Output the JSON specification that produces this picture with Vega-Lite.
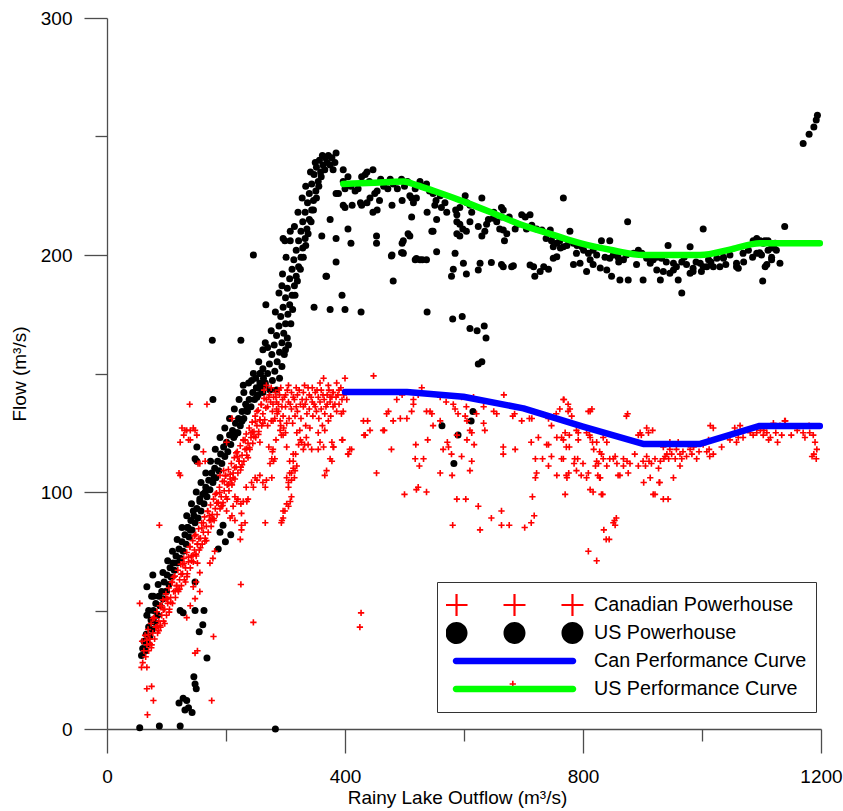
{
"$schema":"https://vega.github.io/schema/vega-lite/v6.json",
"width":714,"height":711,
"autosize":{"type":"none"},
"padding":{"left":107,"top":18,"right":22,"bottom":82},
"background":"white",
"config":{"view":{"stroke":null},"font":"Liberation Sans"},
"datasets":{
"us":[{"x":58,"y":31},{"x":60,"y":34},{"x":62,"y":37},{"x":65,"y":33},{"x":66,"y":40},{"x":68,"y":36},{"x":70,"y":43},{"x":72,"y":39},{"x":74,"y":46},{"x":76,"y":42},{"x":78,"y":50},{"x":80,"y":45},{"x":82,"y":53},{"x":85,"y":48},{"x":87,"y":56},{"x":89,"y":52},{"x":92,"y":58},{"x":94,"y":55},{"x":96,"y":62},{"x":99,"y":58},{"x":101,"y":65},{"x":104,"y":61},{"x":106,"y":68},{"x":108,"y":64},{"x":111,"y":70},{"x":113,"y":67},{"x":116,"y":73},{"x":118,"y":70},{"x":121,"y":76},{"x":123,"y":72},{"x":126,"y":79},{"x":128,"y":75},{"x":131,"y":82},{"x":133,"y":78},{"x":136,"y":85},{"x":138,"y":81},{"x":141,"y":88},{"x":143,"y":84},{"x":146,"y":90},{"x":148,"y":87},{"x":151,"y":93},{"x":153,"y":89},{"x":156,"y":96},{"x":158,"y":92},{"x":161,"y":99},{"x":163,"y":95},{"x":166,"y":102},{"x":168,"y":98},{"x":171,"y":105},{"x":173,"y":101},{"x":176,"y":108},{"x":178,"y":104},{"x":181,"y":110},{"x":183,"y":106},{"x":186,"y":113},{"x":188,"y":109},{"x":191,"y":116},{"x":193,"y":112},{"x":196,"y":119},{"x":198,"y":115},{"x":201,"y":121},{"x":203,"y":117},{"x":206,"y":124},{"x":208,"y":120},{"x":211,"y":126},{"x":213,"y":123},{"x":216,"y":129},{"x":218,"y":125},{"x":221,"y":131},{"x":224,"y":128},{"x":227,"y":134},{"x":230,"y":131},{"x":233,"y":137},{"x":236,"y":134},{"x":239,"y":139},{"x":242,"y":136},{"x":245,"y":142},{"x":248,"y":139},{"x":251,"y":144},{"x":254,"y":141},{"x":257,"y":146},{"x":260,"y":143},{"x":263,"y":148},{"x":266,"y":145},
{"x":70,"y":50},{"x":78,"y":56},{"x":86,"y":61},{"x":94,"y":66},{"x":102,"y":71},{"x":110,"y":75},{"x":118,"y":80},{"x":126,"y":85},{"x":134,"y":90},{"x":142,"y":95},{"x":150,"y":100},{"x":158,"y":104},{"x":166,"y":108},{"x":174,"y":113},{"x":182,"y":118},{"x":190,"y":123},{"x":198,"y":127},{"x":206,"y":131},{"x":214,"y":135},{"x":222,"y":139},{"x":230,"y":142},{"x":238,"y":146},{"x":246,"y":150},
{"x":67,"y":60},{"x":75,"y":56},{"x":67,"y":48},{"x":77,"y":65},{"x":100,"y":58},{"x":123,"y":50},{"x":128,"y":49},{"x":148,"y":50},{"x":163,"y":50},{"x":161,"y":44},{"x":155,"y":41},{"x":168,"y":30},{"x":146,"y":22},{"x":150,"y":17},{"x":148,"y":19},{"x":121,"y":11},{"x":134,"y":12},{"x":128,"y":13},{"x":131,"y":8},{"x":143,"y":7},{"x":137,"y":9},{"x":55,"y":0.5},{"x":88,"y":1.3},{"x":123,"y":1.3},{"x":283,"y":0},{"x":187,"y":76},{"x":208,"y":82},{"x":199,"y":79},{"x":148,"y":62},{"x":135,"y":85},{"x":145,"y":92},{"x":151,"y":113},{"x":151,"y":119},{"x":180,"y":106},{"x":178,"y":139},{"x":229,"y":145},{"x":243,"y":147},{"x":257,"y":150},{"x":250,"y":148},{"x":227,"y":130},{"x":235,"y":135},{"x":215,"y":124},{"x":220,"y":125},{"x":148,"y":114},{"x":190,"y":83},{"x":195,"y":86},{"x":140,"y":84},{"x":156,"y":97},{"x":165,"y":100},
{"x":262,"y":142},{"x":274,"y":143},{"x":266,"y":146},{"x":278,"y":147},{"x":270,"y":150},{"x":282,"y":151},{"x":273,"y":154},{"x":286,"y":155},{"x":277,"y":158},{"x":290,"y":159},{"x":281,"y":162},{"x":294,"y":163},{"x":285,"y":166},{"x":297,"y":167},{"x":289,"y":170},{"x":300,"y":171},{"x":292,"y":174},{"x":304,"y":175},{"x":296,"y":178},{"x":307,"y":179},{"x":300,"y":182},{"x":311,"y":183},{"x":303,"y":186},{"x":315,"y":187},{"x":307,"y":190},{"x":318,"y":191},{"x":311,"y":194},{"x":322,"y":195},{"x":314,"y":198},{"x":326,"y":199},{"x":318,"y":202},{"x":329,"y":203},{"x":322,"y":206},{"x":333,"y":207},{"x":326,"y":210},{"x":336,"y":211},{"x":329,"y":214},{"x":340,"y":215},{"x":333,"y":218},{"x":344,"y":219},{"x":337,"y":222},{"x":347,"y":223},{"x":340,"y":226},{"x":351,"y":227},{"x":344,"y":230},{"x":355,"y":231},{"x":348,"y":234},{"x":359,"y":235},{"x":352,"y":237},{"x":363,"y":238},{"x":357,"y":240},{"x":367,"y":241},{"x":362,"y":242},{"x":372,"y":242},{"x":378,"y":241},{"x":385,"y":243},{"x":375,"y":238},{"x":380,"y":236},{"x":383,"y":239},{"x":258,"y":150},{"x":255,"y":155},{"x":262,"y":160},{"x":266,"y":163},{"x":300,"y":160},{"x":305,"y":162},{"x":252,"y":140},
{"x":256,"y":144},{"x":262,"y":152},{"x":270,"y":161},{"x":276,"y":168},{"x":283,"y":176},{"x":289,"y":184},{"x":295,"y":192},{"x":301,"y":199},{"x":308,"y":206},{"x":315,"y":212},{"x":321,"y":218},{"x":328,"y":224},{"x":334,"y":229},{"x":342,"y":235},{"x":350,"y":239},{"x":285,"y":143},{"x":290,"y":148},{"x":294,"y":153},{"x":298,"y":158},{"x":303,"y":165},{"x":309,"y":171},{"x":312,"y":177},{"x":316,"y":183},{"x":320,"y":189},{"x":325,"y":194},{"x":330,"y":199},{"x":334,"y":204},{"x":338,"y":209},{"x":343,"y":214},{"x":347,"y":219},{"x":352,"y":224},{"x":356,"y":229},{"x":360,"y":233},{"x":366,"y":236},{"x":370,"y":239},
{"x":246,"y":200},{"x":267,"y":179},{"x":225,"y":164},{"x":177,"y":164},{"x":308,"y":210},{"x":294,"y":187},{"x":296,"y":207},{"x":299,"y":206},{"x":385,"y":207},{"x":375,"y":215},{"x":361,"y":208},{"x":368,"y":191},{"x":385,"y":197},{"x":348,"y":178},{"x":375,"y":177},{"x":400,"y":177},{"x":395,"y":183},{"x":427,"y":176},{"x":397,"y":221},{"x":412,"y":221},{"x":426,"y":222},{"x":405,"y":211},{"x":410,"y":205},{"x":453,"y":205},{"x":479,"y":200},{"x":497,"y":201},{"x":509,"y":208},{"x":518,"y":198},{"x":530,"y":198},{"x":481,"y":189},{"x":538,"y":176},{"x":496,"y":205},{"x":512,"y":216},{"x":369,"y":191},{"x":581,"y":173},{"x":767,"y":224},{"x":875,"y":214},{"x":1002,"y":211},{"x":1139,"y":212},{"x":1170,"y":247},{"x":1180,"y":251},{"x":1188,"y":254},{"x":1192,"y":257},{"x":1194,"y":259},{"x":597,"y":174},{"x":610,"y":169},{"x":622,"y":168},{"x":634,"y":170},{"x":637,"y":165},{"x":624,"y":154},{"x":630,"y":155},{"x":615,"y":134},{"x":612,"y":130},{"x":563,"y":128},{"x":590,"y":124},{"x":583,"y":112},{"x":966,"y":184},{"x":1102,"y":189},
{"x":397,"y":236},{"x":397,"y":231},{"x":400,"y":228},{"x":405,"y":233},{"x":410,"y":229},{"x":417,"y":227},{"x":422,"y":228},{"x":428,"y":233},{"x":434,"y":234},{"x":437,"y":235},{"x":441,"y":231},{"x":447,"y":236},{"x":450,"y":226},{"x":454,"y":227},{"x":460,"y":232},{"x":465,"y":229},{"x":472,"y":228},{"x":476,"y":232},{"x":481,"y":230},{"x":488,"y":228},{"x":495,"y":232},{"x":500,"y":229},{"x":505,"y":231},{"x":512,"y":224},{"x":518,"y":228},{"x":526,"y":231},{"x":530,"y":229},{"x":537,"y":230},{"x":542,"y":227},{"x":548,"y":226},{"x":553,"y":223},{"x":560,"y":225},{"x":437,"y":222},{"x":447,"y":218},{"x":454,"y":219},{"x":442,"y":224},{"x":458,"y":223},{"x":479,"y":221},{"x":496,"y":223},{"x":509,"y":225},{"x":515,"y":222},{"x":520,"y":224},{"x":538,"y":218},{"x":385,"y":226},{"x":389,"y":226},{"x":400,"y":220},{"x":428,"y":221},{"x":554,"y":215},{"x":548,"y":210},{"x":630,"y":208},{"x":668,"y":206},{"x":453,"y":208},{"x":498,"y":206},{"x":506,"y":209},{"x":546,"y":210},{"x":588,"y":209},{"x":593,"y":208},{"x":495,"y":201},
{"x":551,"y":221},{"x":562,"y":220},{"x":568,"y":222},{"x":571,"y":218},{"x":586,"y":219},{"x":588,"y":217},{"x":593,"y":220},{"x":602,"y":225},{"x":605,"y":222},{"x":610,"y":221},{"x":613,"y":218},{"x":630,"y":224},{"x":588,"y":214},{"x":593,"y":213},{"x":604,"y":210},{"x":598,"y":211},{"x":610,"y":214},{"x":624,"y":212},{"x":638,"y":213},{"x":635,"y":210},{"x":663,"y":220},{"x":666,"y":219},{"x":663,"y":216},
{"x":649,"y":215.5},{"x":655,"y":214},{"x":641,"y":215},{"x":660,"y":211},{"x":666,"y":210.5},{"x":672,"y":209},{"x":686,"y":211},{"x":697,"y":217},{"x":703,"y":216},{"x":711,"y":217},{"x":714,"y":212.6},{"x":722,"y":211},{"x":731,"y":210.5},{"x":745,"y":210.5},{"x":750,"y":208},{"x":747,"y":206},{"x":750,"y":203.5},{"x":756,"y":205},{"x":761,"y":206},{"x":767,"y":203.5},{"x":773,"y":204},{"x":778,"y":210},{"x":784,"y":205},{"x":789,"y":200.7},{"x":798,"y":203.5},{"x":801,"y":202},{"x":809,"y":200.7},{"x":817,"y":202},{"x":823,"y":200},{"x":831,"y":206},{"x":845,"y":206},{"x":837,"y":199},{"x":845,"y":198.6},{"x":851,"y":200},{"x":859,"y":199},{"x":868,"y":198},{"x":873,"y":200},{"x":885,"y":200.7},{"x":893,"y":202},{"x":899,"y":200.7},{"x":907,"y":198.6},{"x":913,"y":196.5},{"x":918,"y":198},{"x":924,"y":199},{"x":932,"y":198.6},{"x":943,"y":204},{"x":952,"y":196.5},{"x":957,"y":195},{"x":966,"y":197},{"x":974,"y":196},{"x":980,"y":203.5},{"x":985,"y":194.4},{"x":997,"y":196.5},{"x":1002,"y":195},{"x":1011,"y":198},{"x":1019,"y":195},{"x":1025,"y":198.6},{"x":1036,"y":199},{"x":1047,"y":200},{"x":1058,"y":196.5},{"x":1061,"y":194.4},{"x":1069,"y":200.7},{"x":1078,"y":202},{"x":1086,"y":206},{"x":1092,"y":200.7},{"x":1100,"y":200},{"x":1106,"y":206},{"x":1111,"y":202},{"x":1117,"y":198},{"x":1123,"y":205},{"x":1109,"y":196},{"x":1131,"y":196.5},
{"x":478,"y":199.6},{"x":498,"y":200.7},{"x":520,"y":198.5},{"x":526,"y":198},{"x":537,"y":198},{"x":554,"y":201.4},{"x":585,"y":200.7},{"x":582,"y":194},{"x":579,"y":191},{"x":604,"y":192},{"x":599,"y":196.5},{"x":627,"y":196.5},{"x":624,"y":193.7},{"x":646,"y":196.8},{"x":663,"y":196},{"x":666,"y":195},{"x":680,"y":195},{"x":683,"y":195.5},{"x":711,"y":195.8},{"x":717,"y":195},{"x":719,"y":191},{"x":728,"y":193},{"x":734,"y":195},{"x":742,"y":194},{"x":750,"y":198.6},{"x":756,"y":199.3},{"x":784,"y":196},{"x":795,"y":196.5},{"x":806,"y":193},{"x":817,"y":196},{"x":829,"y":194.5},{"x":840,"y":193.7},{"x":848,"y":191},{"x":862,"y":189.5},{"x":876,"y":189.5},{"x":901,"y":189.5},{"x":924,"y":193.7},{"x":935,"y":193},{"x":930,"y":189.5},{"x":946,"y":192.3},{"x":952,"y":193.7},{"x":960,"y":189.5},{"x":980,"y":192.3},{"x":985,"y":193},{"x":999,"y":193},{"x":1008,"y":195},{"x":1036,"y":198.6},{"x":1058,"y":195},{"x":1097,"y":201},{"x":1106,"y":195},{"x":1117,"y":199},
{"x":1092,"y":207},{"x":1098,"y":206},{"x":1103,"y":205},{"x":1111,"y":206},{"x":1120,"y":204},{"x":1125,"y":202},{"x":1117,"y":203},{"x":650,"y":218},{"x":676,"y":216},{"x":690,"y":213},{"x":705,"y":211},{"x":738,"y":207},{"x":762,"y":203},{"x":790,"y":204},{"x":812,"y":198},{"x":860,"y":197},{"x":890,"y":196},{"x":940,"y":197},{"x":970,"y":199},{"x":990,"y":197},{"x":1015,"y":197},{"x":1040,"y":196},{"x":1070,"y":197},{"x":1085,"y":199},{"x":1030,"y":195}],
"can":[{"x":60,"y":28},{"x":62,"y":33},{"x":59,"y":37},{"x":65,"y":30.5},{"x":67,"y":35.5},{"x":64,"y":39.5},{"x":70,"y":33},{"x":72,"y":38},{"x":69,"y":42},{"x":75,"y":35.5},{"x":77,"y":40.5},{"x":74,"y":44.5},{"x":80,"y":38},{"x":82,"y":43},{"x":79,"y":47},{"x":85,"y":40.5},{"x":87,"y":45.5},{"x":84,"y":49.5},{"x":90,"y":43},{"x":92,"y":48},{"x":89,"y":52},{"x":95,"y":45.5},{"x":97,"y":50.5},{"x":94,"y":54.5},{"x":100,"y":48},{"x":102,"y":53},{"x":99,"y":57},{"x":105,"y":50.5},{"x":107,"y":55.5},{"x":104,"y":59.5},{"x":110,"y":53},{"x":112,"y":58},{"x":109,"y":62},{"x":115,"y":55.5},{"x":117,"y":60.5},{"x":114,"y":64.5},{"x":120,"y":58},{"x":122,"y":63},{"x":119,"y":67},{"x":125,"y":60.5},{"x":127,"y":65.5},{"x":124,"y":69.5},{"x":130,"y":63},{"x":132,"y":68},{"x":129,"y":72},{"x":135,"y":65.5},{"x":137,"y":70.5},{"x":134,"y":74.5},{"x":140,"y":68},{"x":142,"y":73},{"x":139,"y":77},{"x":145,"y":70.5},{"x":147,"y":75.5},{"x":144,"y":79.5},{"x":150,"y":73},{"x":152,"y":78},{"x":149,"y":82},{"x":155,"y":75.5},{"x":157,"y":80.5},{"x":154,"y":84.5},{"x":160,"y":78},{"x":162,"y":83},{"x":159,"y":87},{"x":165,"y":80.5},{"x":167,"y":85.5},{"x":164,"y":89.5},{"x":170,"y":83},{"x":172,"y":88},{"x":169,"y":92},{"x":175,"y":85.5},{"x":177,"y":90.5},{"x":174,"y":94.5},{"x":180,"y":88},{"x":182,"y":93},{"x":179,"y":97},{"x":185,"y":90.5},{"x":187,"y":95.5},{"x":184,"y":99.5},{"x":190,"y":93},{"x":192,"y":98},{"x":189,"y":102},{"x":195,"y":95.5},{"x":197,"y":100.5},{"x":194,"y":104.5},{"x":200,"y":98},{"x":202,"y":103},{"x":199,"y":107},{"x":205,"y":100.5},{"x":207,"y":105.5},{"x":204,"y":109.5},{"x":210,"y":103},{"x":212,"y":108},{"x":209,"y":112},{"x":215,"y":105.5},{"x":217,"y":110.5},{"x":214,"y":114.5},{"x":220,"y":108},{"x":222,"y":113},{"x":219,"y":117},{"x":225,"y":110.5},{"x":227,"y":115.5},{"x":224,"y":119.5},{"x":230,"y":113},{"x":232,"y":118},{"x":229,"y":122},{"x":235,"y":115.5},{"x":237,"y":120.5},{"x":234,"y":124.5},{"x":240,"y":118},{"x":242,"y":123},{"x":239,"y":127},{"x":245,"y":120.5},{"x":247,"y":125.5},{"x":244,"y":129.5},{"x":250,"y":123},{"x":252,"y":128},{"x":249,"y":132},{"x":255,"y":125.5},{"x":257,"y":130.5},{"x":254,"y":134.5},{"x":260,"y":128},{"x":262,"y":133},{"x":259,"y":137},{"x":265,"y":130.5},{"x":267,"y":135.5},{"x":264,"y":139.5},
{"x":67,"y":37.5},{"x":72,"y":36},{"x":77,"y":46.5},{"x":82,"y":43},{"x":87,"y":41.5},{"x":92,"y":52},{"x":97,"y":44.5},{"x":102,"y":55},{"x":107,"y":53.5},{"x":112,"y":64},{"x":117,"y":60.5},{"x":122,"y":59},{"x":127,"y":69.5},{"x":132,"y":62},{"x":137,"y":72.5},{"x":142,"y":71},{"x":147,"y":81.5},{"x":152,"y":78},{"x":157,"y":76.5},{"x":162,"y":87},{"x":167,"y":79.5},{"x":172,"y":90},{"x":177,"y":88.5},{"x":182,"y":99},{"x":187,"y":95.5},{"x":192,"y":94},{"x":197,"y":104.5},{"x":202,"y":97},{"x":207,"y":107.5},{"x":212,"y":106},{"x":217,"y":116.5},{"x":222,"y":113},{"x":227,"y":111.5},{"x":232,"y":122},{"x":237,"y":114.5},{"x":242,"y":125},{"x":247,"y":123.5},{"x":252,"y":134},{"x":257,"y":130.5},{"x":262,"y":129},
{"x":69.5,"y":39.8},{"x":74.5,"y":34.3},{"x":79.5,"y":46.8},{"x":84.5,"y":43.3},{"x":89.5,"y":43.8},{"x":94.5,"y":50.3},{"x":99.5,"y":54.8},{"x":104.5,"y":49.3},{"x":109.5,"y":61.8},{"x":114.5,"y":58.3},{"x":119.5,"y":58.8},{"x":124.5,"y":65.3},{"x":129.5,"y":69.8},{"x":134.5,"y":64.3},{"x":139.5,"y":76.8},{"x":144.5,"y":73.3},{"x":149.5,"y":73.8},{"x":154.5,"y":80.3},{"x":159.5,"y":84.8},{"x":164.5,"y":79.3},{"x":169.5,"y":91.8},{"x":174.5,"y":88.3},{"x":179.5,"y":88.8},{"x":184.5,"y":95.3},{"x":189.5,"y":99.8},{"x":194.5,"y":94.3},{"x":199.5,"y":106.8},{"x":204.5,"y":103.3},{"x":209.5,"y":103.8},{"x":214.5,"y":110.3},{"x":219.5,"y":114.8},{"x":224.5,"y":109.3},{"x":229.5,"y":121.8},{"x":234.5,"y":118.3},{"x":239.5,"y":118.8},{"x":244.5,"y":125.3},{"x":249.5,"y":129.8},{"x":254.5,"y":124.3},{"x":259.5,"y":136.8},
{"x":270,"y":136},{"x":275,"y":138},{"x":280,"y":140},{"x":285,"y":138},{"x":290,"y":141},{"x":272,"y":140},{"x":278,"y":134},{"x":283,"y":142},{"x":288,"y":137},{"x":295,"y":139},{"x":300,"y":141},{"x":305,"y":138},{"x":310,"y":142},{"x":315,"y":139},{"x":320,"y":141},{"x":325,"y":137},{"x":330,"y":142},{"x":335,"y":139},{"x":340,"y":141},{"x":345,"y":138},{"x":350,"y":142},{"x":355,"y":140},{"x":360,"y":143},{"x":365,"y":139},{"x":370,"y":141},{"x":375,"y":138},{"x":380,"y":142},{"x":385,"y":140},{"x":390,"y":143},{"x":395,"y":139},{"x":300,"y":136},{"x":310,"y":135},{"x":320,"y":134},{"x":330,"y":136},{"x":340,"y":135},{"x":350,"y":136},{"x":360,"y":135},{"x":370,"y":137},{"x":380,"y":136},{"x":390,"y":137},{"x":398,"y":141},{"x":292,"y":144},{"x":305,"y":145},{"x":318,"y":144},{"x":332,"y":145},{"x":345,"y":144},{"x":358,"y":146},{"x":372,"y":145},{"x":386,"y":146},{"x":264,"y":143},{"x":268,"y":145},{"x":276,"y":144},{"x":286,"y":133},{"x":296,"y":132},{"x":306,"y":131},{"x":316,"y":132},{"x":326,"y":131},{"x":336,"y":133},{"x":346,"y":132},{"x":356,"y":131},{"x":366,"y":133},{"x":376,"y":132},{"x":386,"y":134},{"x":394,"y":133},
{"x":268,"y":139},{"x":273,"y":141},{"x":279,"y":137},{"x":284,"y":140},{"x":289,"y":143},{"x":294,"y":136},{"x":298,"y":140},{"x":303,"y":143},{"x":308,"y":137},{"x":313,"y":140},{"x":318,"y":136},{"x":323,"y":143},{"x":328,"y":139},{"x":333,"y":137},{"x":338,"y":144},{"x":343,"y":140},{"x":348,"y":137},{"x":353,"y":143},{"x":358,"y":138},{"x":363,"y":141},{"x":368,"y":136},{"x":373,"y":143},{"x":378,"y":140},{"x":383,"y":137},{"x":388,"y":141},{"x":393,"y":144},{"x":282,"y":131},{"x":292,"y":128},{"x":312,"y":129},{"x":334,"y":128},{"x":352,"y":134},{"x":372,"y":130},{"x":362,"y":128},{"x":300,"y":125},{"x":288,"y":134},{"x":276,"y":130},{"x":270,"y":128},
{"x":139,"y":137},{"x":168,"y":137},{"x":210,"y":131},{"x":364,"y":148},{"x":400,"y":148},{"x":448,"y":149},{"x":131,"y":126},{"x":148,"y":126},{"x":140,"y":122},{"x":123,"y":107},{"x":162,"y":117},{"x":156,"y":112},{"x":165,"y":113},{"x":190,"y":107},{"x":196,"y":109},{"x":257,"y":121},{"x":272,"y":119},{"x":284,"y":122},{"x":293,"y":124},{"x":291,"y":126},{"x":297,"y":127},{"x":302,"y":129},{"x":279,"y":130},{"x":291,"y":130},{"x":285,"y":135},{"x":279,"y":118},{"x":302,"y":119},{"x":296,"y":124},{"x":319,"y":125},{"x":325,"y":122},{"x":327,"y":121},{"x":335,"y":123},{"x":338,"y":120},{"x":332,"y":120},{"x":330,"y":118},{"x":344,"y":118},{"x":324,"y":126},{"x":341,"y":127},{"x":355,"y":125},{"x":366,"y":126},{"x":358,"y":121},{"x":364,"y":119},{"x":355,"y":118},{"x":378,"y":121},{"x":381,"y":119},{"x":395,"y":122},{"x":408,"y":118},{"x":405,"y":116},{"x":378,"y":113},{"x":369,"y":109},{"x":434,"y":124},{"x":442,"y":126},{"x":464,"y":126},{"x":481,"y":130},{"x":478,"y":118},{"x":453,"y":108},{"x":431,"y":130},{"x":366,"y":107},{"x":307,"y":113},{"x":313,"y":110},{"x":307,"y":108},{"x":302,"y":106},{"x":310,"y":105},{"x":316,"y":109},{"x":305,"y":102},{"x":302,"y":95},{"x":296,"y":92},{"x":296,"y":89},{"x":293,"y":87},{"x":277,"y":114},{"x":280,"y":113},{"x":277,"y":106},{"x":257,"y":107},{"x":249,"y":106},{"x":243,"y":104},{"x":268,"y":105},{"x":266,"y":102},{"x":234,"y":102},{"x":237,"y":97},{"x":229,"y":96},{"x":226,"y":91},{"x":232,"y":87},{"x":226,"y":86},{"x":215,"y":88},{"x":212,"y":94},{"x":201,"y":92},{"x":207,"y":89},{"x":215,"y":98},{"x":218,"y":96},{"x":266,"y":87},
{"x":126,"y":127},{"x":129,"y":124},{"x":134,"y":126},{"x":137,"y":122},{"x":123,"y":121},{"x":140,"y":126},{"x":151,"y":124},{"x":145,"y":127},{"x":121,"y":108},{"x":88,"y":86},{"x":153,"y":112},{"x":201,"y":121},{"x":294,"y":88},{"x":299,"y":92},{"x":305,"y":94},{"x":310,"y":98},{"x":308,"y":96},{"x":305,"y":104},{"x":310,"y":108},{"x":315,"y":106},{"x":319,"y":111},{"x":313,"y":113},{"x":317,"y":116},{"x":322,"y":120},{"x":313,"y":116},{"x":274,"y":112},{"x":278,"y":117},{"x":282,"y":114},{"x":246,"y":102},{"x":252,"y":105},{"x":262,"y":104},{"x":225,"y":95},{"x":235,"y":96},{"x":220,"y":97},{"x":224,"y":80},{"x":226,"y":84},{"x":210,"y":90},{"x":173,"y":70},{"x":178,"y":72},{"x":181,"y":75},{"x":145,"y":60},{"x":150,"y":62},{"x":156,"y":66},{"x":152,"y":70},{"x":134,"y":47},{"x":140,"y":52},{"x":148,"y":55},{"x":156,"y":58},{"x":225,"y":61},{"x":246,"y":45},{"x":179,"y":39},{"x":148,"y":32},{"x":152,"y":33},{"x":55,"y":53},{"x":67,"y":26},{"x":58,"y":26},{"x":67,"y":17},{"x":75,"y":18},{"x":78,"y":12},{"x":68,"y":6},{"x":176,"y":12},{"x":427,"y":49},{"x":425,"y":43},{"x":682,"y":19},
{"x":375,"y":140},{"x":380,"y":142},{"x":403,"y":139},{"x":397,"y":134},{"x":396,"y":122},{"x":411,"y":118},{"x":406,"y":116},{"x":375,"y":114},{"x":380,"y":119},{"x":438,"y":130},{"x":432,"y":124},{"x":466,"y":126},{"x":493,"y":131},{"x":504,"y":131},{"x":470,"y":133},{"x":473,"y":134},{"x":500,"y":99},{"x":520,"y":101},{"x":523,"y":102},{"x":537,"y":100},{"x":519,"y":120},{"x":518,"y":114},{"x":532,"y":114},{"x":525,"y":111},{"x":539,"y":122},{"x":546,"y":133},{"x":512,"y":134},{"x":515,"y":137},{"x":487,"y":139},{"x":496,"y":141},{"x":515,"y":139},{"x":529,"y":144},{"x":523,"y":141},{"x":548,"y":128},{"x":560,"y":130},{"x":565,"y":118},{"x":572,"y":121},{"x":560,"y":108},{"x":580,"y":107},{"x":588,"y":97},{"x":603,"y":97},{"x":581,"y":86},{"x":624,"y":94},{"x":627,"y":84},{"x":646,"y":89},{"x":663,"y":92},{"x":663,"y":86},{"x":676,"y":86},{"x":702,"y":85},{"x":713,"y":87},{"x":718,"y":90},{"x":715,"y":98},
{"x":537,"y":134},{"x":543,"y":134},{"x":560,"y":140},{"x":570,"y":138},{"x":582,"y":137},{"x":596,"y":140},{"x":604,"y":136},{"x":585,"y":135},{"x":590,"y":133},{"x":602,"y":132},{"x":605,"y":130},{"x":588,"y":124},{"x":605,"y":122},{"x":596,"y":115},{"x":610,"y":126},{"x":616,"y":140},{"x":621,"y":133},{"x":633,"y":136},{"x":633,"y":129},{"x":650,"y":134},{"x":655,"y":133},{"x":635,"y":126},{"x":617,"y":120},{"x":613,"y":125},{"x":610,"y":109},{"x":613,"y":113},{"x":579,"y":116},{"x":574,"y":119},
{"x":667,"y":141},{"x":682,"y":132},{"x":685,"y":133},{"x":666,"y":119},{"x":686,"y":118},{"x":666,"y":116},{"x":697,"y":130},{"x":710,"y":131},{"x":713,"y":121},{"x":714,"y":131},{"x":720,"y":114},{"x":732,"y":114},{"x":725,"y":123},{"x":739,"y":120},{"x":742,"y":120},{"x":720,"y":106},{"x":722,"y":108},{"x":742,"y":111},{"x":747,"y":115},{"x":764,"y":114},{"x":742,"y":131},{"x":747,"y":128},{"x":755,"y":133},{"x":761,"y":135},{"x":767,"y":139},{"x":775,"y":137},{"x":775,"y":134},{"x":756,"y":123},{"x":767,"y":122},{"x":772,"y":119},{"x":777,"y":124},{"x":756,"y":107},{"x":773,"y":106},{"x":789,"y":126},{"x":792,"y":125},{"x":806,"y":125},{"x":811,"y":124},{"x":789,"y":109},{"x":797,"y":107},{"x":809,"y":108},{"x":806,"y":106},{"x":812,"y":101},{"x":817,"y":100},{"x":823,"y":121},{"x":840,"y":121},{"x":828,"y":117},{"x":831,"y":116},{"x":834,"y":114},{"x":823,"y":113},{"x":826,"y":112},{"x":821,"y":111},{"x":840,"y":111},{"x":825,"y":107},{"x":828,"y":106},{"x":812,"y":134},{"x":815,"y":135},{"x":792,"y":122},{"x":785,"y":112},{"x":776,"y":108},{"x":791,"y":114},{"x":800,"y":112},
{"x":833,"y":99},{"x":851,"y":114},{"x":854,"y":115},{"x":857,"y":112},{"x":868,"y":114},{"x":874,"y":113},{"x":879,"y":112},{"x":868,"y":111},{"x":859,"y":107},{"x":862,"y":107},{"x":876,"y":108},{"x":853,"y":88},{"x":851,"y":87},{"x":854,"y":86},{"x":856,"y":89},{"x":835,"y":84},{"x":839,"y":80},{"x":844,"y":80},{"x":809,"y":75},{"x":823,"y":71},
{"x":875,"y":133},{"x":896,"y":125},{"x":898,"y":124},{"x":907,"y":127},{"x":917,"y":126},{"x":887,"y":116},{"x":901,"y":113},{"x":907,"y":115},{"x":911,"y":113},{"x":915,"y":112},{"x":921,"y":114},{"x":927,"y":110},{"x":930,"y":113},{"x":936,"y":114},{"x":941,"y":116},{"x":944,"y":114},{"x":893,"y":111},{"x":905,"y":111},{"x":902,"y":104},{"x":913,"y":106},{"x":928,"y":104},{"x":952,"y":106},{"x":918,"y":99},{"x":935,"y":97},{"x":943,"y":97},
{"x":935,"y":119},{"x":946,"y":118},{"x":957,"y":118},{"x":968,"y":117},{"x":963,"y":116},{"x":974,"y":115},{"x":980,"y":118},{"x":986,"y":119},{"x":960,"y":121},{"x":977,"y":120},{"x":949,"y":116},{"x":938,"y":115},{"x":983,"y":116},{"x":991,"y":114},{"x":966,"y":114},{"x":955,"y":114},{"x":946,"y":121},{"x":995,"y":117},{"x":1002,"y":120},{"x":1008,"y":117},{"x":1013,"y":115},{"x":1019,"y":116},{"x":1012,"y":118},{"x":1014,"y":128},{"x":1019,"y":127},{"x":1011,"y":122},{"x":1033,"y":119},{"x":1055,"y":127},{"x":1061,"y":123},{"x":1047,"y":122},{"x":1086,"y":124},{"x":1081,"y":125},{"x":1098,"y":126},{"x":1103,"y":124},{"x":1112,"y":122},{"x":1104,"y":126},{"x":1124,"y":125},{"x":1127,"y":121},{"x":1131,"y":128},{"x":1140,"y":130},{"x":1170,"y":125},{"x":1181,"y":125},{"x":1173,"y":123},{"x":1187,"y":124},{"x":1190,"y":121},{"x":1193,"y":118},{"x":1185,"y":115},{"x":1180,"y":128},{"x":1150,"y":124},{"x":1160,"y":126},{"x":963,"y":111},{"x":929,"y":104},{"x":921,"y":99},
{"x":768,"y":139},{"x":778,"y":135},{"x":781,"y":132},{"x":809,"y":134},{"x":873,"y":132},{"x":893,"y":124},{"x":910,"y":125},{"x":764,"y":123},{"x":770,"y":125},{"x":812,"y":123},{"x":834,"y":123},{"x":816,"y":121},{"x":777,"y":119},{"x":767,"y":114},{"x":786,"y":114},{"x":818,"y":118},{"x":845,"y":114},{"x":772,"y":107},{"x":829,"y":106},{"x":770,"y":99},{"x":831,"y":99},{"x":1064,"y":128},{"x":1058,"y":121},{"x":1069,"y":123},{"x":1092,"y":125},{"x":1109,"y":125},{"x":1115,"y":123},{"x":1134,"y":124},{"x":1139,"y":130},{"x":1120,"y":129},{"x":1192,"y":114},{"x":1188,"y":116}],
"usc":[{"x":397,"y":230},{"x":450,"y":230.5},{"x":498,"y":231},{"x":520,"y":229.5},{"x":550,"y":227},{"x":605,"y":222},{"x":650,"y":217.5},{"x":694,"y":213},{"x":750,"y":208.5},{"x":795,"y":205},{"x":850,"y":202},{"x":901,"y":200},{"x":997,"y":200},{"x":1050,"y":202.5},{"x":1097,"y":205},{"x":1198,"y":205}],
"canc":[{"x":400,"y":142.2},{"x":504,"y":142.2},{"x":599,"y":140.2},{"x":700,"y":135.3},{"x":800,"y":127.6},{"x":901,"y":120.3},{"x":997,"y":120.3},{"x":1097,"y":127.9},{"x":1198,"y":127.9}],
"legendrows":[]
},
"encoding":{
"x":{"field":"x","type":"quantitative","scale":{"domain":[0,1200],"nice":false,"zero":false},"axis":null},
"y":{"field":"y","type":"quantitative","scale":{"domain":[0,300],"nice":false,"zero":false},"axis":null}
},
"resolve":{"axis":{"x":"independent","y":"independent"}},
"layer":[
{"data":{"name":"us"},"mark":{"type":"point","shape":"circle","filled":true,"size":49,"opacity":1,"strokeWidth":0,"color":"#000000"},
"encoding":{
"x":{"field":"x","type":"quantitative","scale":{"domain":[0,1200],"nice":false,"zero":false},
"axis":{"orient":"bottom","title":"Rainy Lake Outflow (m³/s)","values":[0,400,800,1200],"format":"d","tickSize":24,"labelPadding":14,"labelFontSize":19,"labelColor":"#000000","labelFont":"Liberation Sans","labelFlush":false,"labelOverlap":false,"titleFont":"Liberation Sans","titleFontSize":19,"titleFontWeight":"normal","titleColor":"#000000","titleX":350,"titleY":74,"titleBaseline":"alphabetic","titleAlign":"center","domainColor":"#4d4d4d","tickColor":"#4d4d4d","domainWidth":1.3,"tickWidth":1.3,"grid":false}},
"y":{"field":"y","type":"quantitative","scale":{"domain":[0,300],"nice":false,"zero":false},
"axis":{"orient":"left","title":"Flow (m³/s)","values":[0,100,200,300],"format":"d","tickSize":23,"labelPadding":12,"labelFontSize":19,"labelColor":"#000000","labelFont":"Liberation Sans","labelFlush":false,"labelOverlap":false,"titleFont":"Liberation Sans","titleFontSize":19,"titleFontWeight":"normal","titleColor":"#000000","titleX":-88,"titleY":355.5,"titleAngle":-90,"titleAlign":"center","titleBaseline":"middle","domainColor":"#4d4d4d","tickColor":"#4d4d4d","domainWidth":1.3,"tickWidth":1.3,"grid":false}}}},
{"data":{"name":"can"},"mark":{"type":"point","shape":"M-1,0H1M0,-1V1","filled":false,"size":40,"opacity":1,"strokeWidth":1.6,"color":"#ff0000"},
"encoding":{
"x":{"field":"x","type":"quantitative","scale":{"domain":[0,1200],"nice":false,"zero":false},
"axis":{"orient":"bottom","title":null,"values":[200,600,1000],"labels":false,"domain":false,"tickSize":12,"tickColor":"#4d4d4d","tickWidth":1.3,"grid":false}},
"y":{"field":"y","type":"quantitative","scale":{"domain":[0,300],"nice":false,"zero":false},
"axis":{"orient":"left","title":null,"values":[50,150,250],"labels":false,"domain":false,"tickSize":12,"tickColor":"#4d4d4d","tickWidth":1.3,"grid":false}}}},
{"data":{"name":"canc"},"mark":{"type":"line","strokeWidth":6.5,"strokeCap":"round","strokeJoin":"round","color":"#0000ff"}},
{"data":{"name":"usc"},"mark":{"type":"line","strokeWidth":6.5,"strokeCap":"round","strokeJoin":"round","interpolate":"monotone","color":"#00ff00"}},
{"data":{"name":"legendrows"},"mark":{"type":"point","opacity":1},
"encoding":{
"fill":{"field":"s","type":"nominal",
"scale":{"domain":["Canadian Powerhouse","US Powerhouse","Can Performance Curve","US Performance Curve"],"range":["transparent","#000000","#0000ff","#00ff00"]},
"legend":{"title":null,"orient":"none","legendX":330,"legendY":564,"direction":"vertical","strokeColor":"#333333","padding":9,"symbolSize":484,"symbolStrokeWidth":2.2,"symbolOpacity":1,"symbolFillColor":"transparent","symbolStrokeColor":"transparent","symbolOffset":56,"labelOffset":67,"labelFontSize":19.7,"labelFont":"Liberation Sans","labelColor":"#000000","labelLimit":400,"clipHeight":28,"rowPadding":0}},
"stroke":{"field":"s","type":"nominal",
"scale":{"domain":["Canadian Powerhouse","US Powerhouse","Can Performance Curve","US Performance Curve"],"range":["#ff0000","transparent","transparent","transparent"]},
"legend":{"title":null,"orient":"none","legendX":330,"legendY":564,"direction":"vertical","strokeColor":"#333333","padding":9,"symbolSize":484,"symbolStrokeWidth":2.2,"symbolOpacity":1,"symbolFillColor":"transparent","symbolStrokeColor":"transparent","symbolOffset":56,"labelOffset":67,"labelFontSize":19.7,"labelFont":"Liberation Sans","labelColor":"#000000","labelLimit":400,"clipHeight":28,"rowPadding":0}},
"shape":{"field":"s","type":"nominal",
"scale":{"domain":["Canadian Powerhouse","US Powerhouse","Can Performance Curve","US Performance Curve"],"range":["M-6.27,0H-4.27M-5.27,-1V1M-1,0H1M0,-1V1M4.27,0H6.27M5.27,-1V1","M-4.27,0C-4.27,0.55,-4.72,1,-5.27,1C-5.82,1,-6.27,0.55,-6.27,0C-6.27,-0.55,-5.82,-1,-5.27,-1C-4.72,-1,-4.27,-0.55,-4.27,0ZM1,0C1,0.55,0.55,1,0,1C-0.55,1,-1,0.55,-1,0C-1,-0.55,-0.55,-1,0,-1C0.55,-1,1,-0.55,1,0ZM6.27,0C6.27,0.55,5.82,1,5.27,1C4.72,1,4.27,0.55,4.27,0C4.27,-0.55,4.72,-1,5.27,-1C5.82,-1,6.27,-0.55,6.27,0Z","M-5.32,-0.295H5.32C5.483,-0.295,5.615,-0.163,5.615,0C5.615,0.163,5.483,0.295,5.32,0.295H-5.32C-5.483,0.295,-5.615,0.163,-5.615,0C-5.615,-0.163,-5.483,-0.295,-5.32,-0.295Z","M-5.32,-0.295H5.32C5.483,-0.295,5.615,-0.163,5.615,0C5.615,0.163,5.483,0.295,5.32,0.295H-5.32C-5.483,0.295,-5.615,0.163,-5.615,0C-5.615,-0.163,-5.483,-0.295,-5.32,-0.295Z"]},
"legend":{"title":null,"orient":"none","legendX":330,"legendY":564,"direction":"vertical","strokeColor":"#333333","padding":9,"symbolSize":484,"symbolStrokeWidth":2.2,"symbolOpacity":1,"symbolFillColor":"transparent","symbolStrokeColor":"transparent","symbolOffset":56,"labelOffset":67,"labelFontSize":19.7,"labelFont":"Liberation Sans","labelColor":"#000000","labelLimit":400,"clipHeight":28,"rowPadding":0}}
}}
]
}
